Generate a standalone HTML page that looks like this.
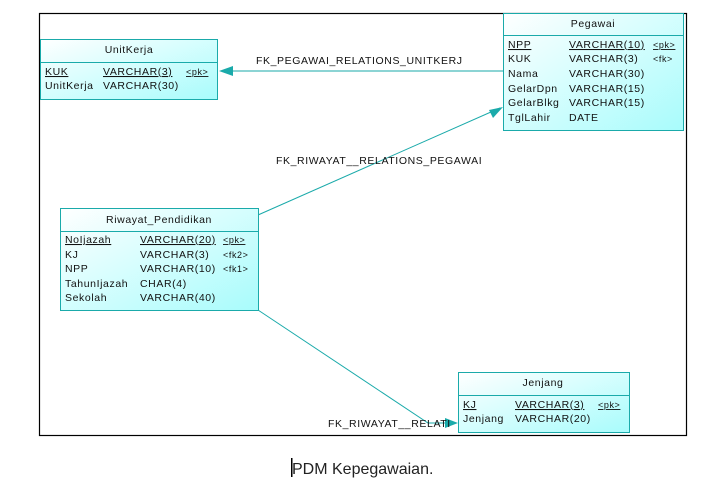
<!DOCTYPE html>
<html><head><meta charset="utf-8"><style>
html,body{margin:0;padding:0;background:#fff;width:715px;height:488px;overflow:hidden}
svg{display:block}
text{font-family:"Liberation Sans",Arial,sans-serif;font-size:10.5px;fill:#111;letter-spacing:0.6px}
.cap{font-size:16px;letter-spacing:0;fill:#222}
</style></head><body>
<svg width="715" height="488" viewBox="0 0 715 488" xmlns="http://www.w3.org/2000/svg">
<defs>
<linearGradient id="g" x1="0" y1="0" x2="1" y2="1">
<stop offset="0" stop-color="#ffffff"/><stop offset="1" stop-color="#a8fcfc"/>
</linearGradient>
</defs>
<rect x="39.5" y="13.5" width="647" height="422" fill="#fff" stroke="#000" stroke-width="1.2"/>

<!-- connectors -->
<g stroke="#1aaaaa" stroke-width="1" fill="none">
<line x1="503" y1="71" x2="222" y2="71"/>
<line x1="258" y1="215" x2="500" y2="108"/>
<polyline points="258,310 428,423 456,423"/>
</g>
<g fill="#1aaaaa">
<polygon points="219,71 233,66 233,76"/>
<polygon points="503,107 489,110 493,118"/>
<polygon points="458,423 445,418 445,428"/>
</g>

<text x="256" y="64">FK_PEGAWAI_RELATIONS_UNITKERJ</text>
<text x="276" y="164">FK_RIWAYAT__RELATIONS_PEGAWAI</text>
<text x="328" y="427">FK_RIWAYAT__RELATI</text>

<!-- UnitKerja -->
<rect x="40.5" y="39.5" width="177" height="60" fill="url(#g)" stroke="#1aaaaa"/>
<line x1="40.5" y1="62.5" x2="217.5" y2="62.5" stroke="#1aaaaa"/>
<text x="129" y="53" text-anchor="middle">UnitKerja</text>
<text x="45" y="75" text-decoration="underline">KUK</text>
<text x="103" y="75" text-decoration="underline">VARCHAR(3)</text>
<text x="186" y="75" text-decoration="underline" style="font-size:9px">&lt;pk&gt;</text>
<text x="45" y="89">UnitKerja</text>
<text x="103" y="89">VARCHAR(30)</text>

<!-- Pegawai -->
<rect x="503.5" y="13.5" width="180" height="117" fill="url(#g)" stroke="#1aaaaa"/>
<line x1="503.5" y1="35.5" x2="683.5" y2="35.5" stroke="#1aaaaa"/>
<text x="593" y="27" text-anchor="middle">Pegawai</text>
<text x="508" y="48" text-decoration="underline">NPP</text>
<text x="569" y="48" text-decoration="underline">VARCHAR(10)</text>
<text x="653" y="48" text-decoration="underline" style="font-size:9px">&lt;pk&gt;</text>
<text x="508" y="62">KUK</text><text x="569" y="62">VARCHAR(3)</text><text x="653" y="62" style="font-size:9px">&lt;fk&gt;</text>
<text x="508" y="77">Nama</text><text x="569" y="77">VARCHAR(30)</text>
<text x="508" y="92">GelarDpn</text><text x="569" y="92">VARCHAR(15)</text>
<text x="508" y="106">GelarBlkg</text><text x="569" y="106">VARCHAR(15)</text>
<text x="508" y="121">TglLahir</text><text x="569" y="121">DATE</text>

<!-- Riwayat_Pendidikan -->
<rect x="60.5" y="208.5" width="198" height="102" fill="url(#g)" stroke="#1aaaaa"/>
<line x1="60.5" y1="231.5" x2="258.5" y2="231.5" stroke="#1aaaaa"/>
<text x="159" y="223" text-anchor="middle">Riwayat_Pendidikan</text>
<text x="65" y="243" text-decoration="underline">NoIjazah</text>
<text x="140" y="243" text-decoration="underline">VARCHAR(20)</text>
<text x="223" y="243" text-decoration="underline" style="font-size:9px">&lt;pk&gt;</text>
<text x="65" y="258">KJ</text><text x="140" y="258">VARCHAR(3)</text><text x="223" y="258" style="font-size:9px">&lt;fk2&gt;</text>
<text x="65" y="272">NPP</text><text x="140" y="272">VARCHAR(10)</text><text x="223" y="272" style="font-size:9px">&lt;fk1&gt;</text>
<text x="65" y="287">TahunIjazah</text><text x="140" y="287">CHAR(4)</text>
<text x="65" y="301">Sekolah</text><text x="140" y="301">VARCHAR(40)</text>

<!-- Jenjang -->
<rect x="458.5" y="372.5" width="171" height="60" fill="url(#g)" stroke="#1aaaaa"/>
<line x1="458.5" y1="395.5" x2="629.5" y2="395.5" stroke="#1aaaaa"/>
<text x="543" y="386" text-anchor="middle">Jenjang</text>
<text x="463" y="408" text-decoration="underline">KJ</text>
<text x="515" y="408" text-decoration="underline">VARCHAR(3)</text>
<text x="598" y="408" text-decoration="underline" style="font-size:9px">&lt;pk&gt;</text>
<text x="463" y="422">Jenjang</text><text x="515" y="422">VARCHAR(20)</text>

<!-- caption -->
<rect x="291" y="458" width="1.5" height="19" fill="#000"/>
<text class="cap" x="292" y="474">PDM Kepegawaian.</text>
</svg>
</body></html>
